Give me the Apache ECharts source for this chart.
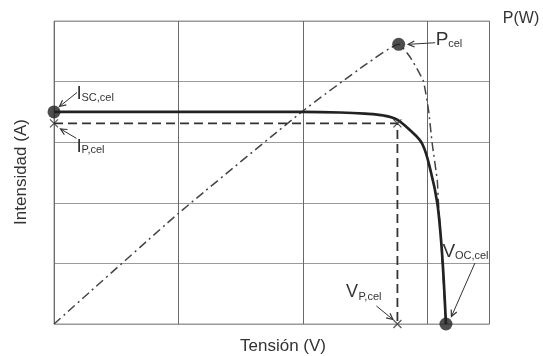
<!DOCTYPE html>
<html><head><meta charset="utf-8">
<script src="https://cdn.jsdelivr.net/npm/echarts@6/dist/echarts.min.js"></script>
<style>html,body{margin:0;padding:0;background:#fff}#c{width:543px;height:356px}</style>
</head><body><div id="c"></div>
<script>
// I-V curve of the cell (voltage V, current A)
const ivVoltage = [0, 0.5, 1, 1.5, 2, 2.3, 2.5, 2.65, 2.75, 2.86, 2.96, 3.03, 3.08, 3.11, 3.13, 3.15];
const ivCurrent = [3.5, 3.5, 3.5, 3.5, 3.5, 3.49, 3.47, 3.44, 3.38, 3.2, 2.97, 2.5, 2.0, 1.4, 0.8, 0];
// P-V curve (voltage V, power W)
const pvVoltage = [0, 1, 2, 2.5, 2.77, 2.86, 2.93, 2.97, 3.01, 3.04, 3.08, 3.09, 3.11, 3.15];
const pvPower   = [0, 3.65, 7.03, 8.55, 9.23, 8.82, 8.33, 8.0, 7.06, 5.94, 4.75, 3.99, 2.77, 0];
// characteristic points
const iscPoint = [0, 3.5];
const vocPoint = [3.15, 0];
const pmaxPoint = [2.77, 9.23];
const vMpp = 2.76, iMpp = 3.31;
const mppPath = [[0, iMpp], [vMpp, iMpp], [vMpp, 0]];
const crossPoints = [[0, iMpp], [vMpp, iMpp], [vMpp, 0]];
// axis ranges
const xMax = 3.5, yMax = 5, pMax = 10;

const FONT = "'Liberation Sans', Arial, Helvetica, sans-serif";
const TXT = '#333';
const chart = echarts.init(document.getElementById('c'), null, {renderer: 'canvas'});

const ivData = ivVoltage.map((v, i) => [v, ivCurrent[i]]);
const pvData = pvVoltage.map((v, i) => [v, pvPower[i]]);

chart.setOption({
  animation: false,
  backgroundColor: '#fff',
  grid: {left: 54, top: 21, right: 53.5, bottom: 32, show: true, borderColor: '#999', borderWidth: 1, backgroundColor: 'transparent'},
  xAxis: {type: 'value', min: 0, max: xMax, interval: 1,
    axisLine: {show: false}, axisTick: {show: false}, axisLabel: {show: false},
    splitLine: {show: true, lineStyle: {color: '#6a6a6a', width: 1}}},
  yAxis: [
    {type: 'value', min: 0, max: yMax, interval: 1,
      axisLine: {show: false}, axisTick: {show: false}, axisLabel: {show: false},
      splitLine: {show: true, lineStyle: {color: '#9a9a9a', width: 1}}},
    {type: 'value', min: 0, max: pMax, interval: 2, position: 'right',
      axisLine: {show: false}, axisTick: {show: false}, axisLabel: {show: false},
      splitLine: {show: false}}
  ],
  series: [
    {type: 'line', data: pvData, yAxisIndex: 1, symbol: 'none', smooth: 0.15, z: 3,
      lineStyle: {color: '#444', width: 1.5, type: [9, 4, 2, 4]}},
    {type: 'line', data: mppPath, symbol: 'none', z: 3,
      lineStyle: {color: '#333', width: 1.8, type: [9, 5]}},
    {type: 'line', data: ivData, symbol: 'none', smooth: 0.35, z: 4,
      lineStyle: {color: '#222', width: 2.7}},
    {type: 'scatter', data: crossPoints, symbol: 'path://M0,0L10,10M10,0L0,10', symbolSize: 8, z: 5,
      itemStyle: {color: 'none', borderColor: '#333', borderWidth: 1.3}},
    {type: 'scatter', data: [iscPoint, vocPoint], symbolSize: 13, z: 6,
      itemStyle: {color: '#222'}},
    {type: 'scatter', data: [pmaxPoint], yAxisIndex: 1, symbolSize: 13, z: 6,
      itemStyle: {color: '#222'}}
  ]
});

function px(pt, axis) {
  return chart.convertToPixel(axis === 1 ? {xAxisIndex: 0, yAxisIndex: 1} : {xAxisIndex: 0, yAxisIndex: 0}, pt);
}
function arrow(x1, y1, x2, y2) {
  const a = Math.atan2(y2 - y1, x2 - x1), h = 7, w = 0.45;
  return [
    {type: 'line', z: 20, shape: {x1, y1, x2, y2}, style: {stroke: '#333', lineWidth: 1}},
    {type: 'polyline', z: 20, shape: {points: [
      [x2 - h * Math.cos(a - w), y2 - h * Math.sin(a - w)], [x2, y2],
      [x2 - h * Math.cos(a + w), y2 - h * Math.sin(a + w)]]},
      style: {stroke: '#333', fill: null, lineWidth: 1.2}}
  ];
}
function txt(x, y, s, size, align) {
  return {type: 'text', z: 20, x, y, style: {text: s, fill: TXT, font: size + 'px ' + FONT,
    align: align || 'left', verticalAlign: 'middle'}};
}
function label(x, y, main, sub, size) {
  const mainW = main === 'I' ? 5 : 12.5;
  return [txt(x, y, main, size), txt(x + mainW, y + 4, sub, 11)];
}

const isc = px(iscPoint, 0), voc = px(vocPoint, 0), pm = px(pmaxPoint, 1);
const ip = px([0, iMpp], 0), vp = px([vMpp, 0], 0);
const g = [];
// I_SC,cel
g.push(...arrow(isc[0] + 23, isc[1] - 19.4, isc[0] + 5.5, isc[1] - 5.4));
g.push(...label(isc[0] + 22.5, isc[1] - 18, 'I', 'SC,cel', 19));
// I_P,cel
g.push(...arrow(ip[0] + 22.5, ip[1] + 15, ip[0] + 6.5, ip[1] + 5.5));
g.push(...label(ip[0] + 22.5, ip[1] + 23, 'I', 'P,cel', 19));
// P_cel
g.push(...arrow(pm[0] + 36.5, pm[1] - 1.6, pm[0] + 9.5, pm[1]));
g.push(...label(pm[0] + 37, pm[1] - 4.5, 'P', 'cel', 19));
// V_OC,cel
g.push(...arrow(voc[0] + 29, voc[1] - 61, voc[0] + 5.5, voc[1] - 7.5));
g.push(...label(voc[0] - 3.5, voc[1] - 72.5, 'V', 'OC,cel', 19));
// V_P,cel
g.push(...arrow(vp[0] - 21, vp[1] - 18, vp[0] - 4.5, vp[1] - 4.5));
g.push(...label(vp[0] - 51.5, vp[1] - 31.5, 'V', 'P,cel', 18));
// axis titles
g.push(txt(521, 19, 'P(W)', 16, 'center'));
g.push(txt(283, 346, 'Tensión (V)', 17, 'center'));
g.push({type: 'text', z: 20, x: 21, y: 172, rotation: Math.PI / 2,
  style: {text: 'Intensidad (A)', fill: TXT, font: '17px ' + FONT, align: 'center', verticalAlign: 'middle'}});

chart.setOption({graphic: g});
</script>
</body></html>
